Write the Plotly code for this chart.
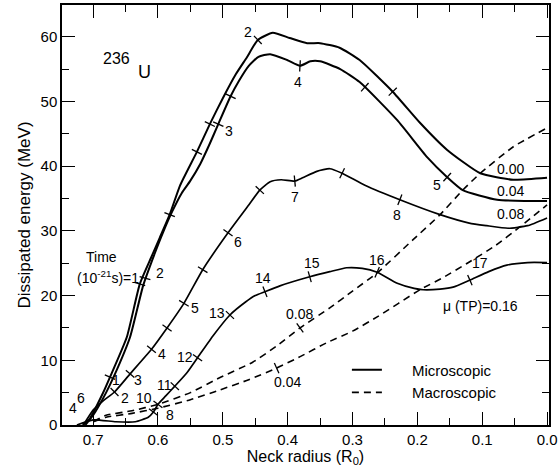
import numpy as np
import plotly.graph_objects as go

# ---------------------------------------------------------------------------
# Data: neck radius (R0) vs dissipated energy (MeV)
# ---------------------------------------------------------------------------
R_MIC_000 = [0.716, 0.705, 0.685, 0.674, 0.648, 0.628, 0.61, 0.597, 0.582, 0.566, 0.54, 0.52, 0.50,
             0.48, 0.463, 0.446, 0.423, 0.397, 0.37, 0.35, 0.32, 0.289, 0.238, 0.196, 0.154, 0.103,
             0.052, 0.0]
E_MIC_000 = [0.0, 1.0, 4.9, 7.4, 13.6, 21.8, 26.0, 29.0, 32.5, 37.0, 42.2, 46.5, 50.5,
             54.2, 56.8, 59.5, 60.6, 59.8, 59.0, 59.0, 58.3, 56.4, 51.5, 46.7, 42.5, 38.9,
             37.9, 38.2]

R_MIC_004 = [0.712, 0.70, 0.68, 0.668, 0.643, 0.623, 0.605, 0.592, 0.578, 0.563, 0.551, 0.535, 0.52,
             0.507, 0.488, 0.475, 0.46, 0.445, 0.427, 0.401, 0.381, 0.365, 0.35, 0.319, 0.289, 0.231,
             0.185, 0.154, 0.13, 0.077, 0.0]
E_MIC_004 = [0.0, 1.5, 5.0, 7.5, 13.6, 21.5, 26.5, 29.8, 33.0, 35.9, 37.6, 40.3, 43.5,
             46.5, 50.8, 53.2, 55.5, 56.9, 57.3, 56.4, 55.5, 56.2, 56.2, 55.0, 53.0, 47.1,
             41.4, 38.3, 36.3, 34.8, 34.6]

R_MIC_008 = [0.715, 0.70, 0.685, 0.667, 0.643, 0.61, 0.586, 0.56, 0.531, 0.492, 0.46, 0.443, 0.427,
             0.41, 0.389, 0.377, 0.355, 0.335, 0.316, 0.28, 0.227, 0.165, 0.12, 0.093, 0.06, 0.03, 0.0]
E_MIC_008 = [0.0, 2.3, 3.7, 5.1, 7.9, 11.7, 15.0, 18.8, 24.0, 29.7, 34.0, 36.3, 37.6,
             37.9, 37.7, 38.2, 39.2, 39.6, 38.9, 37.0, 34.8, 32.5, 31.2, 30.8, 30.4, 30.8, 32.0]

R_MIC_016 = [0.725, 0.70, 0.665, 0.635, 0.615, 0.607, 0.60, 0.588, 0.574, 0.556, 0.539, 0.515, 0.489,
             0.465, 0.45, 0.435, 0.412, 0.366, 0.335, 0.309, 0.285, 0.262, 0.231, 0.205, 0.191, 0.165,
             0.145, 0.119, 0.09, 0.062, 0.03, 0.0]
E_MIC_016 = [0.0, 0.8, 0.5, 0.5, 1.2, 2.0, 3.2, 4.5, 6.0, 8.0, 10.4, 13.8, 17.0,
             19.0, 20.0, 20.6, 21.5, 22.9, 23.7, 24.3, 24.2, 23.6, 21.9, 21.1, 20.9, 21.0,
             21.3, 22.4, 23.7, 24.7, 25.1, 25.1]

R_MAC_008 = [0.70, 0.68, 0.64, 0.60, 0.55, 0.505, 0.454, 0.417, 0.381, 0.335, 0.30, 0.262, 0.207,
             0.165, 0.13, 0.103, 0.052, 0.0]
E_MAC_008 = [0.5, 1.5, 2.2, 3.2, 5.0, 7.3, 9.7, 12.2, 15.0, 18.1, 20.7, 23.5, 28.6,
             32.5, 36.3, 38.9, 43.0, 45.9]

R_MAC_004 = [0.70, 0.68, 0.64, 0.60, 0.55, 0.505, 0.46, 0.417, 0.38, 0.34, 0.30, 0.262, 0.196,
             0.16, 0.123, 0.08, 0.042, 0.0]
E_MAC_004 = [0.5, 1.2, 1.8, 2.6, 3.9, 5.4, 7.0, 8.8, 10.6, 12.7, 14.5, 16.7, 20.9,
             22.8, 25.0, 27.7, 30.6, 34.0]

# time marks (10^-21 s) along the curves
TR_000 = [0.674, 0.628, 0.582, 0.54, 0.52, 0.446, 0.238]
TE_000 = [7.4, 21.8, 32.5, 42.2, 46.5, 59.5, 51.5]
TR_004 = [0.62, 0.507, 0.488, 0.381, 0.281, 0.154]
TE_004 = [22.7, 46.5, 50.8, 55.5, 52.2, 38.3]
TR_008 = [0.667, 0.643, 0.61, 0.586, 0.56, 0.531, 0.492, 0.443, 0.389, 0.316, 0.227]
TE_008 = [5.1, 7.9, 11.7, 15.0, 18.8, 24.0, 29.7, 36.3, 37.7, 38.9, 34.8]
TR_016 = [0.607, 0.60, 0.574, 0.539, 0.489, 0.435, 0.366, 0.262, 0.119]
TE_016 = [2.0, 3.2, 6.0, 10.4, 17.0, 20.6, 22.9, 23.6, 22.4]
TR_MAC_008 = [0.381]
TE_MAC_008 = [15.0]
TR_MAC_004 = [0.417]
TE_MAC_004 = [8.8]

# labels: (text, neck radius, energy)
TIME_LABELS = [
    ("2", 0.461, 60.7), ("4", 0.384, 53.0), ("3", 0.490, 45.4), ("5", 0.170, 37.1),
    ("7", 0.389, 35.2), ("8", 0.231, 32.5), ("6", 0.477, 28.3), ("5", 0.543, 18.1),
    ("4", 0.594, 11.0), ("3", 0.631, 7.0), ("2", 0.651, 4.2), ("1", 0.664, 7.0),
    ("6", 0.718, 4.2), ("4", 0.731, 2.6), ("10", 0.622, 4.2), ("8", 0.582, 1.5),
    ("11", 0.590, 6.2), ("12", 0.559, 10.5), ("13", 0.509, 17.3), ("14", 0.438, 22.7),
    ("15", 0.363, 25.0), ("16", 0.262, 25.5), ("17", 0.103, 25.0), ("2", 0.597, 23.5),
]
CURVE_LABELS = [
    ("0.00", 0.057, 39.6), ("0.04", 0.057, 36.1), ("0.08", 0.057, 32.6),
    ("\u03bc (TP)=0.16", 0.102, 18.4), ("0.08", 0.381, 17.2), ("0.04", 0.400, 6.6),
    ("Time", 0.687, 26.0), ("(10<sup>-21</sup>s)=1", 0.677, 22.9),
]

# px per unit on screen, used to orient the time marks across the curves
PX_R, PX_E = 648.0, 6.47
FONT = "Liberation Sans, Arial, sans-serif"


def mark_angles(rc, ec, rt, et):
    rc, ec = np.array(rc), np.array(ec)
    dr, de = np.gradient(rc), np.gradient(ec)
    out = []
    for r, e in zip(rt, et):
        i = int(np.argmin((rc - r) ** 2 * PX_R ** 2 + (ec - e) ** 2 * PX_E ** 2))
        phi = np.degrees(np.arctan2(de[i] * PX_E, -dr[i] * PX_R))
        out.append(-phi)
    return out


fig = go.Figure()

curves = [
    (R_MIC_000, E_MIC_000, TR_000, TE_000, "solid", 2.0, "Microscopic", True),
    (R_MIC_004, E_MIC_004, TR_004, TE_004, "solid", 2.0, "Microscopic", False),
    (R_MIC_008, E_MIC_008, TR_008, TE_008, "solid", 1.7, "Microscopic", False),
    (R_MIC_016, E_MIC_016, TR_016, TE_016, "solid", 1.7, "Microscopic", False),
    (R_MAC_008, E_MAC_008, TR_MAC_008, TE_MAC_008, "7px,5px", 1.6, "Macroscopic", True),
    (R_MAC_004, E_MAC_004, TR_MAC_004, TE_MAC_004, "7px,5px", 1.6, "Macroscopic", False),
]

for rc, ec, rt, et, dash, w, name, show in curves:
    fig.add_trace(go.Scatter(
        x=rc, y=ec, mode="lines", name="\u00a0" * 6 + name, legendgroup=name,
        showlegend=show, hoverinfo="skip",
        line=dict(color="black", width=w, dash=dash, shape="spline", smoothing=0.5),
    ))
    fig.add_trace(go.Scatter(
        x=rt, y=et, mode="markers", showlegend=False, hoverinfo="skip",
        marker=dict(symbol="line-ns", size=8, angle=mark_angles(rc, ec, rt, et),
                    line=dict(color="black", width=1.3)),
    ))

for txt, x, y in TIME_LABELS + CURVE_LABELS:
    fig.add_annotation(x=x, y=y, text=txt, showarrow=False,
                       font=dict(family=FONT, size=14, color="black"))

fig.add_annotation(x=0.664, y=56.6, text="236", showarrow=False,
                   font=dict(family=FONT, size=16, color="black"))
fig.add_annotation(x=0.621, y=54.6, text="U", showarrow=False,
                   font=dict(family=FONT, size=18, color="black"))

axis_common = dict(
    showline=True, linecolor="black", linewidth=1.5, mirror="allticks",
    ticks="inside", ticklen=13, tickwidth=1.3, tickcolor="black",
    showgrid=False, zeroline=False, automargin=False,
    tickfont=dict(family=FONT, size=15, color="black"),
)

fig.update_layout(
    width=559, height=467,
    paper_bgcolor="white", plot_bgcolor="white",
    margin=dict(l=62, r=10, t=5, b=42, autoexpand=False),
    showlegend=True,
    legend=dict(x=0.585, y=0.17, xanchor="left", yanchor="top",
                bgcolor="rgba(0,0,0,0)", tracegroupgap=0,
                font=dict(family=FONT, size=15, color="black")),
    xaxis=dict(
        range=[0.748, -0.003], tickvals=[0.7, 0.6, 0.5, 0.4, 0.3, 0.2, 0.1, 0.0],
        ticktext=["0.7", "0.6", "0.5", "0.4", "0.3", "0.2", "0.1", "0.0"],
        minor=dict(dtick=0.05, tick0=0, ticks="inside", ticklen=7, tickcolor="black"),
        title=dict(text="Neck radius (R<sub>0</sub>)", standoff=2,
                   font=dict(family=FONT, size=16, color="black")),
        **axis_common,
    ),
    yaxis=dict(
        range=[0, 64.9], dtick=10,
        minor=dict(dtick=5, ticks="inside", ticklen=7, tickcolor="black"),
        title=dict(text="Dissipated energy (MeV)", standoff=6,
                   font=dict(family=FONT, size=17, color="black")),
        **axis_common,
    ),
)

fig.write_html("out.html", post_script="document.body.style.margin='0';",
               config={"displayModeBar": False})
